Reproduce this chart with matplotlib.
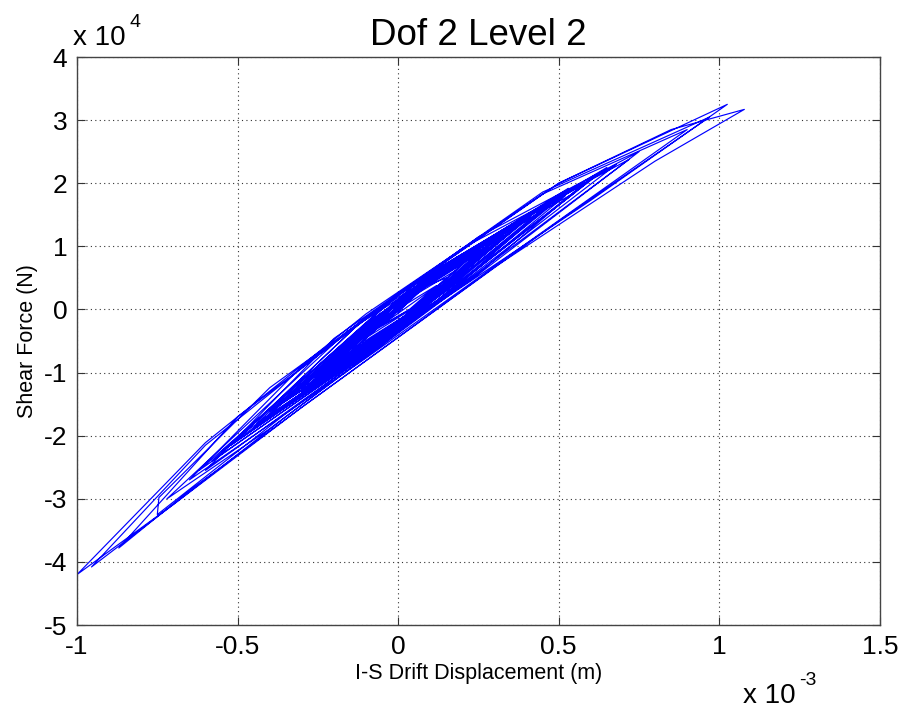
import matplotlib
matplotlib.use('Agg')
import matplotlib.pyplot as plt

plt.rcParams['font.family'] = ['Liberation Sans', 'DejaVu Sans']

disp = [0.00, 0.075, 0.15, 0.015, -0.12, 0.065, 0.25, 0.025, -0.20, 0.075, 0.35,
        0.025, -0.30, 0.075, 0.45, 0.00, -0.45, 0.075, 0.60, 0.025, -0.55, -0.01,
        0.53, 0.10, -0.35, -0.75, -0.745, -0.40, 0.20, 0.72, 0.06, -0.60, -0.20,
        0.45, 0.97, 0.50, -0.30, -0.70, -1.00, -0.60, -0.10, 0.50, 1.025, 0.60,
        0.10, -0.35, 0.10, 0.55, 0.15, -0.25, 0.075, 0.40, 0.00, -0.40, -0.05,
        0.30, 0.075, -0.15, 0.175, 0.50, 0.00, -0.50, -0.10, 0.50, 0.85, 1.078,
        0.80, 0.30, -0.30, -0.65, -0.87, -0.50, 0.05, 0.62, 0.12, -0.38, -0.015,
        0.35, 0.035, -0.28, -0.03, 0.22, 0.02, -0.18, 0.135, 0.45, 0.015, -0.42,
        0.115, 0.65, 0.065, -0.52, -0.10, 0.45, 0.90, 0.45, -0.10, -0.65, -0.30,
        0.25, 0.75, 0.225, -0.30, -0.01, 0.28, 0.03, -0.22, -0.02, 0.18, 0.04,
        -0.10, 0.14, 0.38, 0.015, -0.35, 0.10, 0.55, 0.035, -0.48, -0.08, 0.32,
        0.03, -0.26, -0.07, 0.12, 0.035, -0.05, 0.185, 0.42, -0.08, -0.58, 0.00,
        0.58, 0.25, -0.35, -0.70, -0.955, -0.60, -0.11, 0.48, -0.07, -0.62, 0.03,
        0.68, 0.12, -0.44, -0.055, 0.33, 0.00, -0.33, -0.035, 0.26, 0.05, -0.16,
        0.18, 0.52, 0.10, -0.40, -0.72, -0.16, 0.40, 0.08, -0.24, -0.02, 0.20,
        0.06, -0.08, 0.10]
force = [-0.05, 0.35, 0.50, -0.12, -0.55, 0.34, 0.88, -0.11, -0.85, 0.40, 1.22,
         -0.14, -1.25, 0.45, 1.55, -0.27, -1.88, 0.50, 2.05, -0.24, -2.25, 0.19,
         1.92, 0.02, -1.65, -3.25, -2.98, -1.24, 0.97, 2.38, -0.13, -2.55, -0.46,
         1.86, 3.05, 1.40, -1.55, -3.09, -4.20, -2.11, -0.07, 2.00, 3.25, 1.73,
         0.02, -1.55, 0.57, 1.85, 0.29, -1.10, 0.41, 1.42, -0.25, -1.62, -0.06,
         1.12, 0.08, -0.68, 0.79, 1.78, -0.30, -2.05, -0.12, 2.00, 2.85, 3.17,
         2.35, 0.67, -1.55, -2.87, -3.78, -1.70, 0.43, 2.15, 0.14, -1.55, 0.10,
         1.30, -0.10, -1.20, -0.01, 0.80, -0.11, -0.78, 0.64, 1.65, -0.21, -1.75,
         0.62, 2.25, -0.08, -2.15, -0.12, 1.83, 2.85, 1.23, -0.77, -2.70, -0.90,
         1.15, 2.50, 0.46, -1.30, 0.09, 0.98, -0.10, -0.98, 0.01, 0.62, 0.00,
         -0.45, 0.64, 1.38, -0.20, -1.45, 0.57, 1.95, -0.17, -1.95, -0.15, 1.20,
         -0.12, -1.08, -0.21, 0.38, 0.00, -0.25, 0.81, 1.52, -0.63, -2.40, 0.25,
         2.00, 0.57, -1.70, -3.09, -4.08, -2.15, -0.16, 1.72, -0.59, -2.55, 0.36,
         2.30, 0.11, -1.80, -0.06, 1.18, -0.25, -1.38, -0.02, 0.95, 0.00, -0.72,
         0.82, 1.80, 0.02, -1.89, -3.00, -0.35, 1.45, 0.04, -1.00, 0.02, 0.72,
         0.07, -0.35, 0.30]

xticks = [-1, -0.5, 0, 0.5, 1, 1.5]
yticks = [-5, -4, -3, -2, -1, 0, 1, 2, 3, 4]

fig = plt.figure(figsize=(9, 7.1), dpi=100)
ax = fig.add_axes([0.0856, 0.1197, 0.892, 0.8])

ax.plot(disp, force, color='#0000ff', linewidth=0.85)

ax.set_xlim(-1, 1.5)
ax.set_ylim(-5, 4)
ax.set_xticks(xticks)
ax.set_xticklabels(['-1', '-0.5', '0', '0.5', '1', '1.5'])
ax.set_yticks(yticks)
ax.set_yticklabels([str(v) for v in yticks])
ax.tick_params(direction='in', length=6, width=0.8, labelsize=19,
               top=True, right=True, pad=7, colors='#333333', labelcolor='black')
for s in ax.spines.values():
    s.set_color('#444444')
    s.set_linewidth(1.0)

ax.grid(True, color='#333333', linestyle=(0, (1, 3)), linewidth=0.8)

ax.set_title('Dof 2 Level 2', fontsize=26.5, pad=9)
ax.set_xlabel('I-S Drift Displacement (m)', fontsize=15.5, labelpad=3)
ax.set_ylabel('Shear Force (N)', fontsize=15.5, labelpad=4)

# MATLAB-style exponent labels
fig.text(73 / 900, 1 - 45 / 710, 'x 10', fontsize=20, ha='left', va='baseline')
fig.text(129 / 900, 1 - 27 / 710, '4', fontsize=14, ha='left', va='baseline')
fig.text(743 / 900, 1 - 703 / 710, 'x 10', fontsize=20, ha='left', va='baseline')
fig.text(799 / 900, 1 - 685 / 710, '-3', fontsize=14, ha='left', va='baseline')

fig.savefig('out.png', dpi=100)
